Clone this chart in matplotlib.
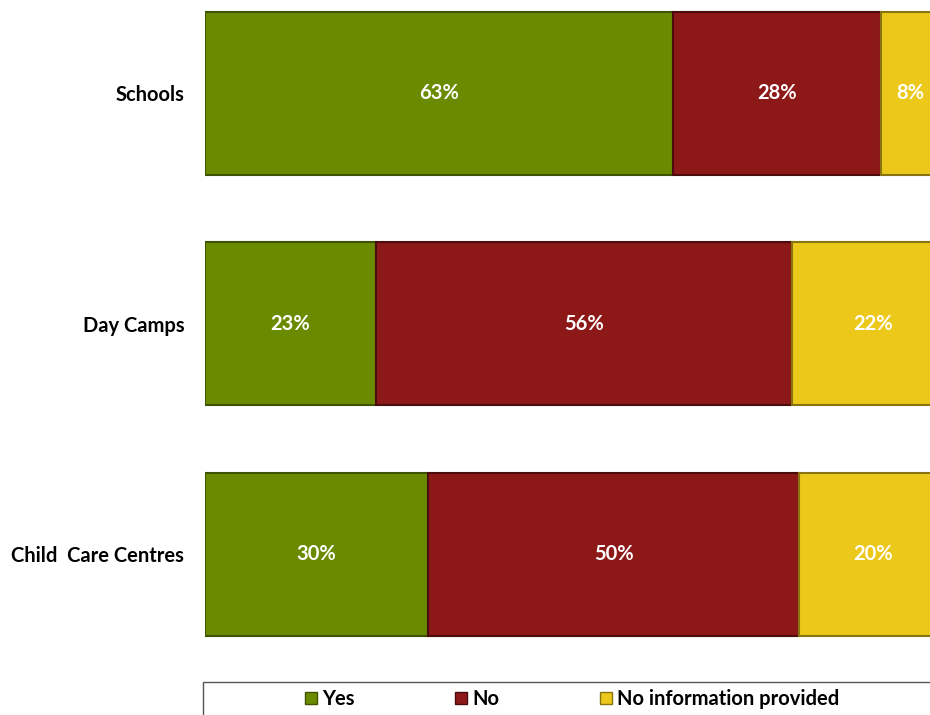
import matplotlib
matplotlib.use("Agg")
import matplotlib.pyplot as plt
from matplotlib.patches import Rectangle, Patch
import numpy as np

categories = ["Schools", "Day Camps", "Child  Care Centres"]
series_names = ["Yes", "No", "No information provided"]
yes_vals = [63, 23, 30]
no_vals = [28, 56, 50]
noinfo_vals = [8, 22, 20]

colors = ["#6a8b00", "#8c1818", "#ecc81a"]
edges = ["#3f5200", "#4a0c0c", "#8a7410"]

plt.rcParams['font.family'] = ['Lato', 'DejaVu Sans']

fig = plt.figure(figsize=(9.3, 7.15), dpi=100)
ax = fig.add_axes([205/930, 55/715, 725/930, 660/715])

y = np.arange(len(categories))
left = np.zeros(len(categories))
for vals, c, e, name in zip([yes_vals, no_vals, noinfo_vals], colors, edges, series_names):
    vals = np.array(vals, dtype=float)
    ax.barh(y, vals, left=left, height=0.707, color=c, edgecolor=e, linewidth=1.5, label=name)
    for yi, l, v in zip(y, left, vals):
        ax.text(l + v/2, yi, f"{int(v)}%", ha="center", va="center", color="white",
                fontsize=14.5, fontweight="bold")
    left += vals

ax.set_xlim(0, 97.6)
ax.set_ylim(2.458, -0.4056)
ax.set_yticks(y)
ax.set_yticklabels(categories, fontsize=14.5, fontweight="bold")
ax.tick_params(axis="y", length=0, pad=15)
ax.set_xticks([])
for s in ax.spines.values():
    s.set_visible(False)

# legend frame
fig.patches.append(Rectangle((203/930, -0.05), 0.8, (715-682)/715 + 0.05,
                             transform=fig.transFigure, facecolor="white",
                             edgecolor="#555555", linewidth=1.0))
handles = [Patch(facecolor=c, edgecolor=e, linewidth=1.0) for c, e in zip(colors, edges)]
fig.legend(handles, series_names, loc="center", bbox_to_anchor=(572/930, 1 - 699/715),
           ncol=3, frameon=False, prop={'weight': 'bold', 'size': 14.5},
           handlelength=0.6, handleheight=0.6, handletextpad=0.25, columnspacing=5.0)

fig.savefig("out.png", dpi=100)
